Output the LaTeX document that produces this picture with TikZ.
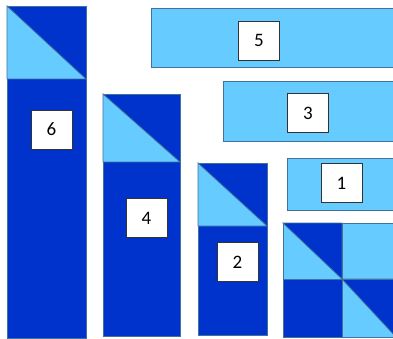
\documentclass[tikz,border=0pt]{standalone}
\usepackage{fontspec}
\setmainfont{Carlito}
\definecolor{darkblue}{HTML}{0033CC}
\definecolor{lightblue}{HTML}{66CCFF}
\definecolor{edgeblue}{HTML}{41719C}
\begin{document}
\begin{tikzpicture}[x=1pt,y=-1pt,
  piece/.style={draw=edgeblue, line width=0.8pt},
  tag/.style={draw=black!80, line width=0.6pt, fill=white, minimum width=41pt, minimum height=39pt, inner sep=0pt, font=\fontsize{19}{19}\selectfont}]
  \useasboundingbox (0,0) rectangle (393,339);
  % tall columns with half-square tops
  \filldraw[piece, fill=darkblue] (7,6) rectangle (86,338);
  \filldraw[piece, fill=lightblue] (7,6) -- (86,79) -- (7,79) -- cycle;
  \filldraw[piece, fill=darkblue] (103,94) rectangle (180,336);
  \filldraw[piece, fill=lightblue] (103,94) -- (180,162) -- (103,162) -- cycle;
  \filldraw[piece, fill=darkblue] (198,163) rectangle (267,335);
  \filldraw[piece, fill=lightblue] (198,163) -- (267,226) -- (198,226) -- cycle;
  % light bars
  \filldraw[piece, fill=lightblue] (151,8) rectangle (396,67);
  \filldraw[piece, fill=lightblue] (223,81) rectangle (396,141);
  \filldraw[piece, fill=lightblue] (287,158) rectangle (396,210);
  % four-patch block
  \filldraw[piece, fill=lightblue] (283,223) rectangle (396,337);
  \filldraw[piece, fill=darkblue] (283,223) -- (342,223) -- (342,279) -- cycle;
  \filldraw[piece, fill=darkblue] (283,279) rectangle (342,337);
  \filldraw[piece, fill=darkblue] (342,279) -- (396,279) -- (396,337) -- cycle;
  \draw[piece] (342,223) -- (342,337);
  \draw[piece] (283,279) -- (396,279);
  % number tags
  \node[tag] (t6) at (51.5,129.5) {6};
  \node[tag] (t4) at (146.5,218) {4};
  \node[tag] (t2) at (237.5,262) {2};
  \node[tag] (t5) at (259,40.5) {5};
  \node[tag] (t3) at (308,113) {3};
  \node[tag] (t1) at (341.5,183) {1};
\end{tikzpicture}
\end{document}
